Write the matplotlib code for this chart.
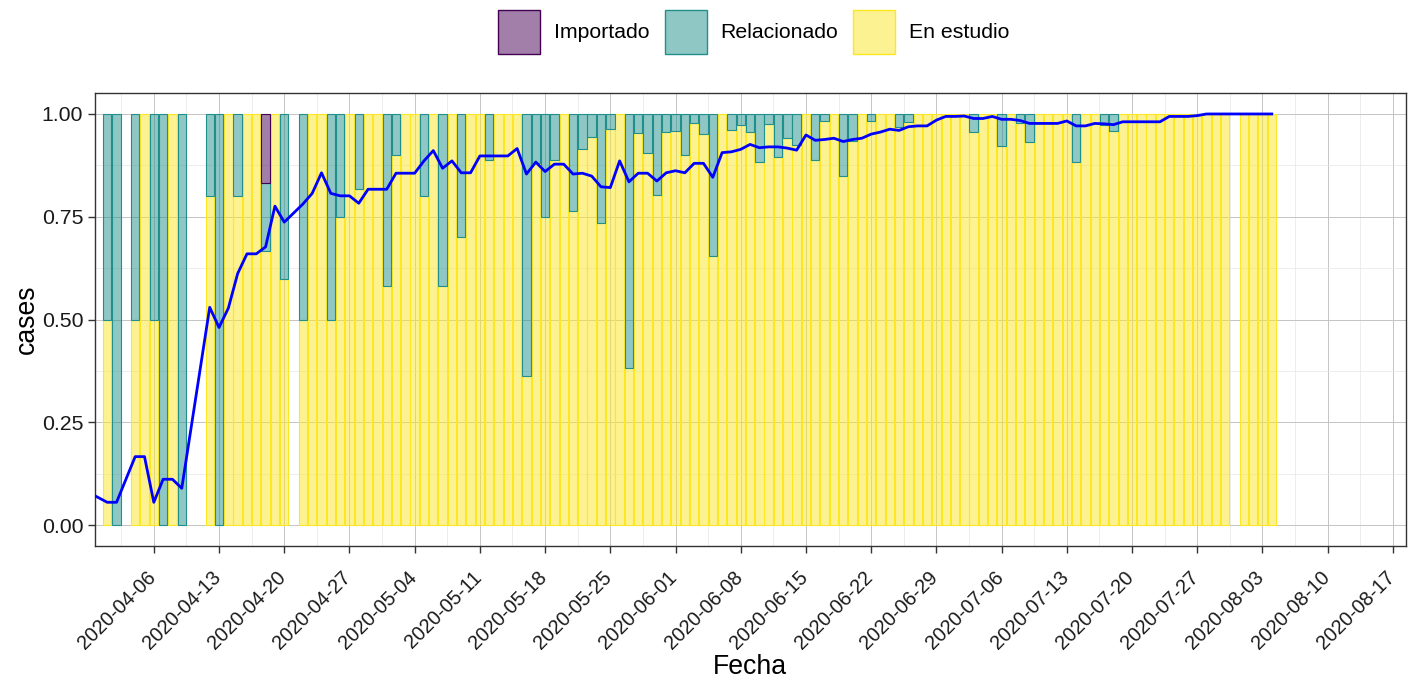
import pandas as pd
import matplotlib
matplotlib.use("Agg")
import matplotlib.pyplot as plt
import matplotlib.dates as mdates
from matplotlib.ticker import AutoMinorLocator, FormatStrFormatter
from matplotlib.patches import Patch
from matplotlib.colors import to_rgba
from matplotlib.transforms import ScaledTranslation

plt.rcParams["font.family"] = ["Liberation Sans", "DejaVu Sans"]

# Days with reported cases
fechas = [
    "2020-04-01", "2020-04-02", "2020-04-04", "2020-04-05", "2020-04-06", "2020-04-07",
    "2020-04-08", "2020-04-09", "2020-04-12", "2020-04-13", "2020-04-14", "2020-04-15",
    "2020-04-16", "2020-04-17", "2020-04-18", "2020-04-19", "2020-04-20", "2020-04-22",
    "2020-04-23", "2020-04-24", "2020-04-25", "2020-04-26", "2020-04-27", "2020-04-28",
    "2020-04-29", "2020-04-30",
    "2020-05-01", "2020-05-02", "2020-05-03", "2020-05-04", "2020-05-05", "2020-05-06",
    "2020-05-07", "2020-05-08", "2020-05-09", "2020-05-10", "2020-05-11", "2020-05-12",
    "2020-05-13", "2020-05-14", "2020-05-15", "2020-05-16", "2020-05-17", "2020-05-18",
    "2020-05-19", "2020-05-20", "2020-05-21", "2020-05-22", "2020-05-23", "2020-05-24",
    "2020-05-25", "2020-05-26", "2020-05-27", "2020-05-28", "2020-05-29", "2020-05-30",
    "2020-05-31",
    "2020-06-01", "2020-06-02", "2020-06-03", "2020-06-04", "2020-06-05", "2020-06-06",
    "2020-06-07", "2020-06-08", "2020-06-09", "2020-06-10", "2020-06-11", "2020-06-12",
    "2020-06-13", "2020-06-14", "2020-06-15", "2020-06-16", "2020-06-17", "2020-06-18",
    "2020-06-19", "2020-06-20", "2020-06-21", "2020-06-22", "2020-06-23", "2020-06-24",
    "2020-06-25", "2020-06-26", "2020-06-27", "2020-06-28", "2020-06-29", "2020-06-30",
    "2020-07-01", "2020-07-02", "2020-07-03", "2020-07-04", "2020-07-05", "2020-07-06",
    "2020-07-07", "2020-07-08", "2020-07-09", "2020-07-10", "2020-07-11", "2020-07-12",
    "2020-07-13", "2020-07-14", "2020-07-15", "2020-07-16", "2020-07-17", "2020-07-18",
    "2020-07-19", "2020-07-20", "2020-07-21", "2020-07-22", "2020-07-23", "2020-07-24",
    "2020-07-25", "2020-07-26", "2020-07-27", "2020-07-28", "2020-07-29", "2020-07-30",
    "2020-08-01", "2020-08-02", "2020-08-03", "2020-08-04",
]

# share of "Relacionado" per day
relacionado = [
    0.5, 1.0, 0.5, 0.0, 0.5, 1.0, 0.0, 1.0, 0.2, 1.0, 0.0, 0.2,
    0.0, 0.0, 0.167, 0.0, 0.4, 0.5, 0.0, 0.0, 0.5, 0.25, 0.0, 0.182,
    0.0, 0.0,
    0.417, 0.1, 0.0, 0.0, 0.2, 0.0, 0.417, 0.0, 0.3, 0.0, 0.0, 0.111,
    0.0, 0.0, 0.0, 0.636, 0.12, 0.25, 0.112, 0.0, 0.236, 0.084, 0.055, 0.264,
    0.037, 0.0, 0.618, 0.047, 0.094, 0.197, 0.044,
    0.041, 0.1, 0.021, 0.049, 0.345, 0.0, 0.038, 0.027, 0.045, 0.117, 0.024, 0.105,
    0.058, 0.075, 0.0, 0.112, 0.017, 0.0, 0.15, 0.065, 0.0, 0.017, 0.0, 0.0,
    0.031, 0.019, 0.0, 0.0, 0.0, 0.0,
    0.0, 0.0, 0.045, 0.0, 0.0, 0.079, 0.0, 0.023, 0.069, 0.0, 0.0, 0.0,
    0.0, 0.116, 0.0, 0.0, 0.027, 0.041, 0.0, 0.0, 0.0, 0.0, 0.0, 0.0,
    0.0, 0.0, 0.0, 0.0, 0.0, 0.0,
    0.0, 0.0, 0.0, 0.0,
]

# share of "Importado" (only one day)
importado_fechas = ["2020-04-18"]
importado_valores = [0.167]

# blue line (share under study), starts just before the first bar
linea_fechas = ["2020-03-30"] + fechas
linea = [
    0.08,
    0.056, 0.056, 0.167, 0.167, 0.056, 0.112, 0.112, 0.090, 0.530, 0.481, 0.528, 0.612,
    0.660, 0.660, 0.677, 0.776, 0.737, 0.781, 0.807, 0.857, 0.807, 0.801, 0.801, 0.783,
    0.817, 0.817,
    0.817, 0.856, 0.856, 0.856, 0.886, 0.911, 0.868, 0.886, 0.857, 0.857, 0.898, 0.898,
    0.898, 0.898, 0.916, 0.854, 0.883, 0.860, 0.878, 0.878, 0.854, 0.856, 0.849, 0.823,
    0.821, 0.886, 0.835, 0.856, 0.856, 0.837, 0.857,
    0.862, 0.857, 0.880, 0.880, 0.846, 0.906, 0.908, 0.914, 0.926, 0.918, 0.920, 0.920,
    0.917, 0.912, 0.949, 0.936, 0.938, 0.941, 0.933, 0.938, 0.941, 0.951, 0.956, 0.963,
    0.960, 0.969, 0.971, 0.971, 0.985, 0.994,
    0.994, 0.995, 0.989, 0.989, 0.994, 0.987, 0.987, 0.984, 0.977, 0.977, 0.977, 0.977,
    0.983, 0.971, 0.971, 0.977, 0.976, 0.974, 0.981, 0.981, 0.981, 0.981, 0.981, 0.994,
    0.994, 0.994, 0.996, 1.0, 1.0, 1.0,
    1.0, 1.0, 1.0, 1.0,
]

categorias = ["Importado", "Relacionado", "En estudio"]
colores = {"Importado": "#440154", "Relacionado": "#21908C", "En estudio": "#FDE725"}

# build stacked table
df = pd.DataFrame({"fecha": pd.to_datetime(fechas), "Relacionado": relacionado})
df["Importado"] = 0.0
for f, v in zip(importado_fechas, importado_valores):
    df.loc[df["fecha"] == pd.Timestamp(f), "Importado"] = v
df["En estudio"] = 1 - df["Relacionado"] - df["Importado"]

fig = plt.figure(figsize=(14.19, 6.81), dpi=100)
ax = fig.add_axes([95 / 1419, 1 - 545.9 / 681, (1405.7 - 95) / 1419, (545.9 - 93.4) / 681])

# stacked bars: En estudio at the bottom, Importado on top
bottom = pd.Series(0.0, index=df.index)
for cat in ["En estudio", "Relacionado", "Importado"]:
    m = df[cat] > 0
    ax.bar(df.loc[m, "fecha"], df.loc[m, cat], bottom=bottom[m], width=0.9,
           color=to_rgba(colores[cat], 0.5), edgecolor=colores[cat], linewidth=0.8,
           zorder=2)
    bottom = bottom + df[cat]

ax.plot(pd.to_datetime(linea_fechas), linea, color="blue", linewidth=2.0, zorder=5)

# axes formatting
ax.set_xlim(pd.Timestamp("2020-03-30 16:30"), pd.Timestamp("2020-08-18 09:00"))
ax.set_ylim(-0.05, 1.05)
ax.xaxis.set_major_locator(mdates.WeekdayLocator(byweekday=mdates.MO))
ax.xaxis.set_major_formatter(mdates.DateFormatter("%Y-%m-%d"))
ax.xaxis.set_minor_locator(AutoMinorLocator(2))
ax.set_yticks([0, 0.25, 0.5, 0.75, 1.0])
ax.yaxis.set_major_formatter(FormatStrFormatter("%.2f"))
ax.yaxis.set_minor_locator(AutoMinorLocator(2))

ax.set_axisbelow(True)
ax.grid(which="major", color="#c4c4c4", linewidth=0.7)
ax.grid(which="minor", color="#e6e6e6", linewidth=0.5)

for s in ax.spines.values():
    s.set_color("#333333")
    s.set_linewidth(1.0)

ax.tick_params(which="major", length=5, width=1, color="#333333",
               labelsize=15.3, labelcolor="#1a1a1a")
ax.tick_params(axis="x", which="major", labelsize=14.3)
ax.tick_params(which="minor", length=0)
shift = ScaledTranslation(-8 / 100, -10 / 100, fig.dpi_scale_trans)
for lab in ax.get_xticklabels():
    lab.set_rotation(45)
    lab.set_ha("right")
    lab.set_va("top")
    lab.set_rotation_mode("anchor")
    lab.set_transform(lab.get_transform() + shift)

ax.set_xlabel("Fecha", fontsize=19.2, labelpad=1)
ax.set_ylabel("cases", fontsize=19.2, labelpad=1)

# legend on top
handles = [Patch(facecolor=to_rgba(colores[c], 0.5), edgecolor=colores[c], linewidth=1.0)
           for c in categorias]
fig.legend(handles, categorias, loc="center", bbox_to_anchor=(754 / 1419, 1 - 32 / 681),
           ncol=3, frameon=False, fontsize=15.3, handlelength=1.97, handleheight=2.74,
           handletextpad=0.66, columnspacing=0.7, borderpad=0, borderaxespad=0)

fig.savefig("out.png", dpi=100)
